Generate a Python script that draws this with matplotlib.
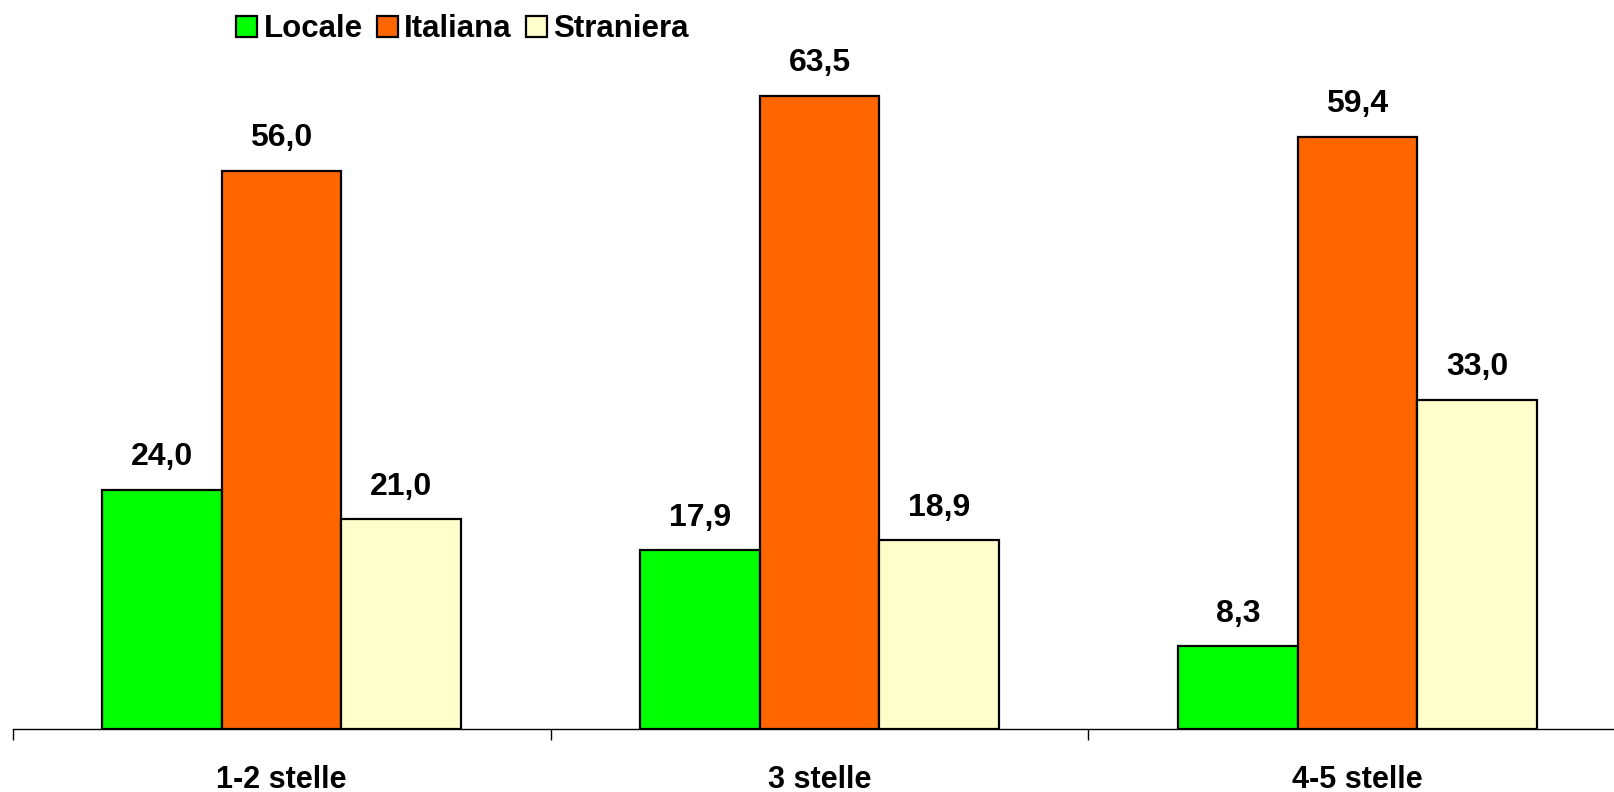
import matplotlib
matplotlib.use("Agg")
import matplotlib.pyplot as plt
import numpy as np

categories = ["1-2 stelle", "3 stelle", "4-5 stelle"]
series = ["Locale", "Italiana", "Straniera"]
locale = [24.0, 17.9, 8.3]
italiana = [56.0, 63.5, 59.4]
straniera = [21.0, 18.9, 33.0]
colors = ["#00FF00", "#FF6600", "#FFFFCC"]

plt.rcParams['font.family'] = ['Liberation Sans', 'DejaVu Sans']
plt.rcParams['font.weight'] = 'bold'

fig = plt.figure(figsize=(16.14, 7.92), dpi=100)
ax = fig.add_axes([0.0078, 0.0798, 0.9922, 0.881])

x = np.arange(len(categories))
w = 1 / 4.5
for i, (name, vals) in enumerate(zip(series, [locale, italiana, straniera])):
    bars = ax.bar(x + (i - 1) * w, vals, w, color=colors[i], edgecolor='black',
                  linewidth=1.6, label=name)
    for b, v in zip(bars, vals):
        ax.annotate(f"{v:.1f}".replace('.', ','),
                    (b.get_x() + b.get_width() / 2, b.get_height()),
                    xytext=(0, 12.5), textcoords='offset points',
                    ha='center', va='bottom', fontsize=23, fontweight='bold')

for s in ['top', 'right', 'left']:
    ax.spines[s].set_visible(False)
ax.spines['bottom'].set_linewidth(1)
ax.set_yticks([])
ax.set_xticks(x)
ax.set_xticklabels(categories, fontsize=22, fontweight='bold')
ax.tick_params(axis='x', which='major', length=0, pad=26)
ax.set_xticks([-0.5, 0.5, 1.5, 2.5], minor=True)
ax.tick_params(axis='x', which='minor', length=8, width=1, direction='out')
ax.set_xlim(-0.5, 2.477)
ax.set_ylim(0, 70)

fig.legend(loc='center', bbox_to_anchor=(0.2865, 0.963), ncol=3, frameon=False,
           handlelength=0.67, handleheight=0.67,
           handletextpad=0.2, columnspacing=0.45, borderaxespad=0,
           prop={'weight': 'bold', 'size': 22.5})

fig.savefig("out.png", dpi=100)
